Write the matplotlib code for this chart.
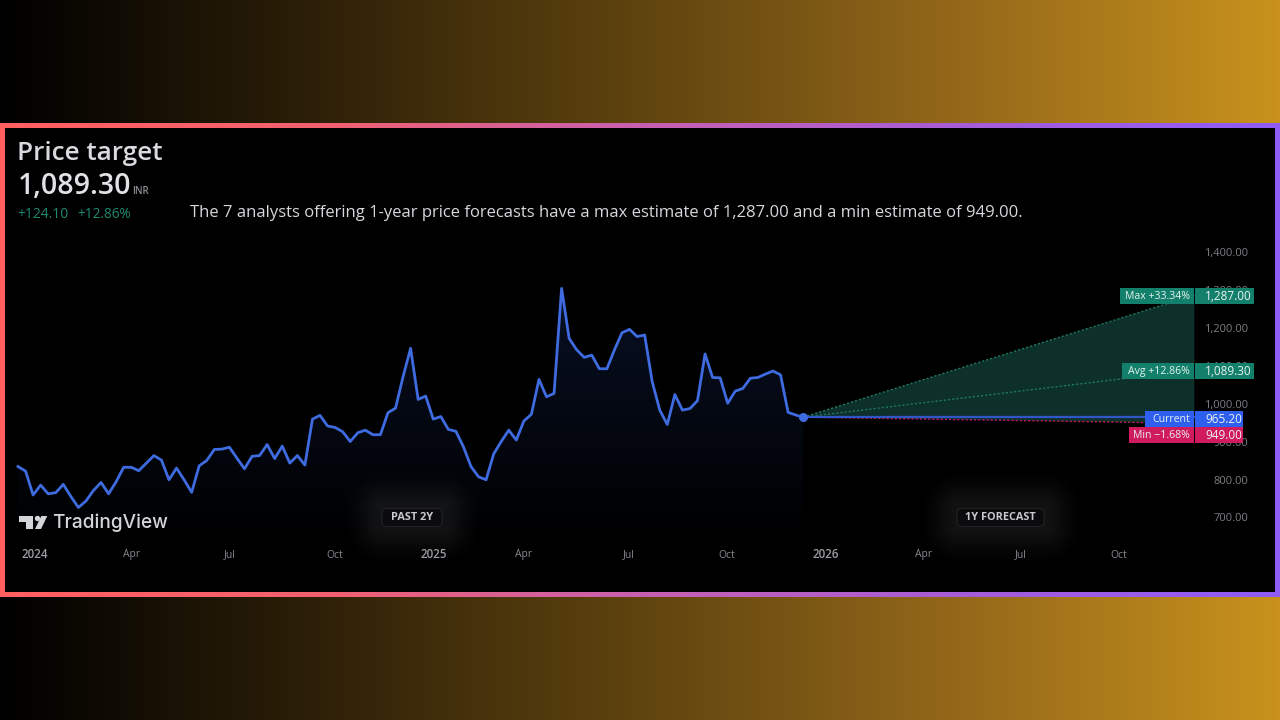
import numpy as np
import matplotlib
matplotlib.use("Agg")
import matplotlib.pyplot as plt
from matplotlib.colors import LinearSegmentedColormap
from matplotlib.patches import FancyBboxPatch, Rectangle, Polygon

# ---------- data ----------
weekly_close = [
    835, 823, 760, 786, 763, 766, 788, 756, 727, 744, 772, 793, 763, 795, 833, 833, 824, 844,
    864, 852, 800, 831, 800, 767, 837, 851, 880, 881, 886, 857, 829, 862, 864, 893, 856, 889,
    844, 864, 839, 960, 970, 942, 938, 927, 901, 924, 931, 919, 919, 977, 989, 1072, 1147, 1012,
    1021, 960, 967, 933, 928, 887, 835, 808, 800, 868, 901, 931, 905, 955, 973, 1065, 1019, 1028,
    1305, 1173, 1143, 1123, 1129, 1093, 1093, 1143, 1188, 1197, 1178, 1182, 1059, 984, 946, 1025,
    984, 988, 1009, 1132, 1070, 1069, 1002, 1034, 1041, 1068, 1070, 1079, 1087, 1077, 978, 971, 965.2,
]
forecast_week_end = 155.8
current_price = 965.20
target_max = 1287.00
target_avg = 1089.30
target_min = 949.00
y_ticks = [700, 800, 900, 1000, 1100, 1200, 1300, 1400]
x_tick_labels = ["2024", "Apr", "Jul", "Oct", "2025", "Apr", "Jul", "Oct", "2026", "Apr", "Jul", "Oct"]
x_tick_weeks = [2.25, 15.1, 28.1, 42.0, 55.1, 66.9, 80.9, 93.9, 107.0, 119.9, 132.8, 145.8]
year_labels = {"2024", "2025", "2026"}

# ---------- layout helpers ----------
W, H = 1280, 720
FONT = ["Open Sans", "DejaVu Sans"]
plt.rcParams["font.family"] = FONT
fig = plt.figure(figsize=(W / 100, H / 100), dpi=100, facecolor="black")

# background layers in pixel coordinates
bg = fig.add_axes([0, 0, 1, 1], zorder=0)
bg.set_xlim(0, W); bg.set_ylim(H, 0); bg.axis("off")
gold = LinearSegmentedColormap.from_list("g", ["#000000", "#2e2008", "#5f440e", "#94681a", "#c8921c"], N=1024)
bg.imshow(np.linspace(0, 1, 1280)[None, :], cmap=gold, extent=(0, W, H, 0), aspect="auto")
edge = LinearSegmentedColormap.from_list("e", ["#ff5f60", "#f2616f", "#c860b0", "#a65dd8", "#8e5cf6"], N=1024)
bg.imshow(np.linspace(0, 1, 1280)[None, :], cmap=edge, extent=(0, W, 597, 123), aspect="auto")
bg.add_patch(Rectangle((5, 128), 1270, 464, fc="black", ec="none", zorder=3))
bg.set_xlim(0, W); bg.set_ylim(H, 0)

# main chart axes: pixel 5..1275 horizontally, 128..592 vertically
PX0, PX_STEP = 18.0, 7.55
P_REF, Y_REF, PX_PER_UNIT = 1000.0, 404.0, 0.379
wk = lambda px: (px - PX0) / PX_STEP
pr = lambda py: P_REF + (Y_REF - py) / PX_PER_UNIT
ax = fig.add_axes([5 / W, 1 - 592 / H, 1270 / W, 464 / H], zorder=2)
ax.patch.set_alpha(0)
ax.set_xlim(wk(5), wk(1275)); ax.set_ylim(pr(592), pr(128))
for s in ax.spines.values():
    s.set_visible(False)
ax.tick_params(length=0)
ax.set_xticks([]); ax.set_yticks([])

weeks = np.arange(len(weekly_close), dtype=float)
closes = np.array(weekly_close, dtype=float)
w_last = weeks[-1]

# gradient area below the price line
fade = LinearSegmentedColormap.from_list("f", ["#000000", "#081024"])
grad = ax.imshow(np.linspace(1, 0, 256)[:, None], cmap=fade, aspect="auto", zorder=1,
                 extent=(weeks[0], w_last, pr(540), pr(290)))
ax.set_xlim(wk(5), wk(1275)); ax.set_ylim(pr(592), pr(128))
clip = Polygon(np.column_stack([np.r_[weeks, w_last, weeks[0]], np.r_[closes, pr(540), pr(540)]]),
               transform=ax.transData, fc="none", ec="none")
ax.add_patch(clip)
grad.set_clip_path(clip)

# forecast fan
ax.fill([w_last, forecast_week_end, forecast_week_end],
        [current_price, target_max, target_min], color="#0e302b", lw=0, zorder=2)
ax.plot([w_last, forecast_week_end], [current_price, target_max], color="#1f7a62", lw=1, ls=(0, (1.5, 1.5)), zorder=3)
ax.plot([w_last, forecast_week_end], [current_price, target_avg], color="#1f7a62", lw=1, ls=(0, (1.5, 1.5)), zorder=3)
ax.plot([w_last, forecast_week_end], [current_price, target_min], color="#c2185b", lw=1, ls=(0, (1.5, 1.5)), zorder=3)
ax.plot([w_last, forecast_week_end], [current_price, current_price], color="#3056c8", lw=1.6, zorder=4)

# price line
ax.plot(weeks, closes, color="#3f6be0", lw=2.0, solid_joinstyle="round", zorder=5)
ax.plot([w_last], [current_price], "o", color="#3f6be0", ms=5.5, zorder=6)

# overlay for text, in pixel coordinates
ov = fig.add_axes([0, 0, 1, 1], zorder=3)
ov.set_xlim(0, W); ov.set_ylim(H, 0); ov.axis("off")

ov.text(17, 153, "Price target", color="#d8dade", fontsize=18.8, fontweight="semibold", va="center")
ov.text(18, 187, "1,089.30", color="#e0e2e6", fontsize=20.5, fontweight="semibold", va="center")
ov.text(132, 192, "INR", color="#8a8d93", fontsize=7, fontweight="semibold", va="center")
ov.text(17, 214, "+124.10", color="#1f8a70", fontsize=10, va="center")
ov.text(77, 214, "+12.86%", color="#1f8a70", fontsize=9.8, va="center")
ov.text(190, 213, "The 7 analysts offering 1-year price forecasts have a max estimate of 1,287.00 and a min estimate of 949.00.",
        color="#d6d8dc", fontsize=12, va="center")

# axis labels
to_py = lambda p: Y_REF - (p - P_REF) * PX_PER_UNIT
to_px = lambda w: PX0 + w * PX_STEP
for p in y_ticks:
    ov.text(1248, to_py(p) + 1.2, f"{p:,.2f}", color="#7c7f85", fontsize=8, ha="right", va="center", zorder=1)
for w, t in zip(x_tick_weeks, x_tick_labels):
    bold = t in year_labels
    ov.text(to_px(w), 555, t, color="#9a9da3" if bold else "#85888e", fontsize=8.3 if bold else 7.5,
            fontweight="semibold" if bold else "normal", ha="center", va="center")

# price tags
def tag(y, h, name, val, color, left, right):
    ov.add_patch(Rectangle((left, y - h / 2), 1193.5 - left, h, fc=color, ec="none", zorder=4))
    ov.add_patch(Rectangle((1194.5, y - h / 2), right - 1194.5, h, fc=color, ec="none", zorder=4))
    ov.text(1190, y + 0.3, name, color="#e6f2ee", fontsize=7.6, ha="right", va="center", zorder=5)
    ov.text(1205, y + 0.3, val, color="#eef2f2", fontsize=8.5, ha="left", va="center", zorder=5)

tag(to_py(target_max) + 1, 16, "Max +33.34%", "1,287.00", "#12806a", 1120, 1254)
tag(to_py(target_avg) + 1, 16, "Avg +12.86%", "1,089.30", "#12806a", 1122, 1254)
tag(435, 16, "Min \u22121.68%", "949.00", "#d01b5e", 1129, 1243)
tag(419, 16, "Current", "965.20", "#2f5fee", 1145, 1243)

# pills with soft glow
def pill(cx, cy, w, h, text):
    xx, yy = np.meshgrid(np.arange(cx - 90, cx + 90), np.arange(cy - 60, cy + 60))
    d = np.hypot(np.maximum(np.abs(xx - cx) - w / 2, 0), np.maximum(np.abs(yy - cy) - h / 2, 0))
    rgba = np.ones(d.shape + (4,))
    rgba[..., 3] = 0.075 * np.exp(-(d / 24.0) ** 2)
    ov.imshow(rgba, extent=(cx - 90, cx + 90, cy + 60, cy - 60), aspect="auto", zorder=2)
    ov.add_patch(FancyBboxPatch((cx - w / 2, cy - h / 2), w, h, boxstyle="round,pad=0,rounding_size=5",
                                fc="#0b0b0d", ec="#222226", lw=0.8, zorder=3))
    ov.text(cx, cy + 0.3, text, color="#c8cacd", fontsize=7.8, fontweight="bold", ha="center", va="center", zorder=4)

pill(412, 517.5, 60, 18, "PAST 2Y")
pill(1000.5, 517.5, 87, 18, "1Y FORECAST")
ov.set_xlim(0, W); ov.set_ylim(H, 0)

# TradingView logo
logo = "#d4d5d8"
ov.add_patch(Rectangle((19, 516), 14, 5.5, fc=logo, ec="none"))
ov.add_patch(Rectangle((26, 516), 7, 13, fc=logo, ec="none"))
ov.add_patch(plt.Circle((37.5, 518.5), 2.7, fc=logo, ec="none"))
ov.add_patch(Polygon([[47.3, 516], [41, 529], [35, 529], [41.3, 516]], fc=logo, ec="none"))
ov.text(52, 523, "TradingView", color=logo, fontsize=13.7, fontweight="medium", va="center", family=["Inter", "DejaVu Sans"])

fig.savefig("out.png", dpi=100, facecolor="black")
